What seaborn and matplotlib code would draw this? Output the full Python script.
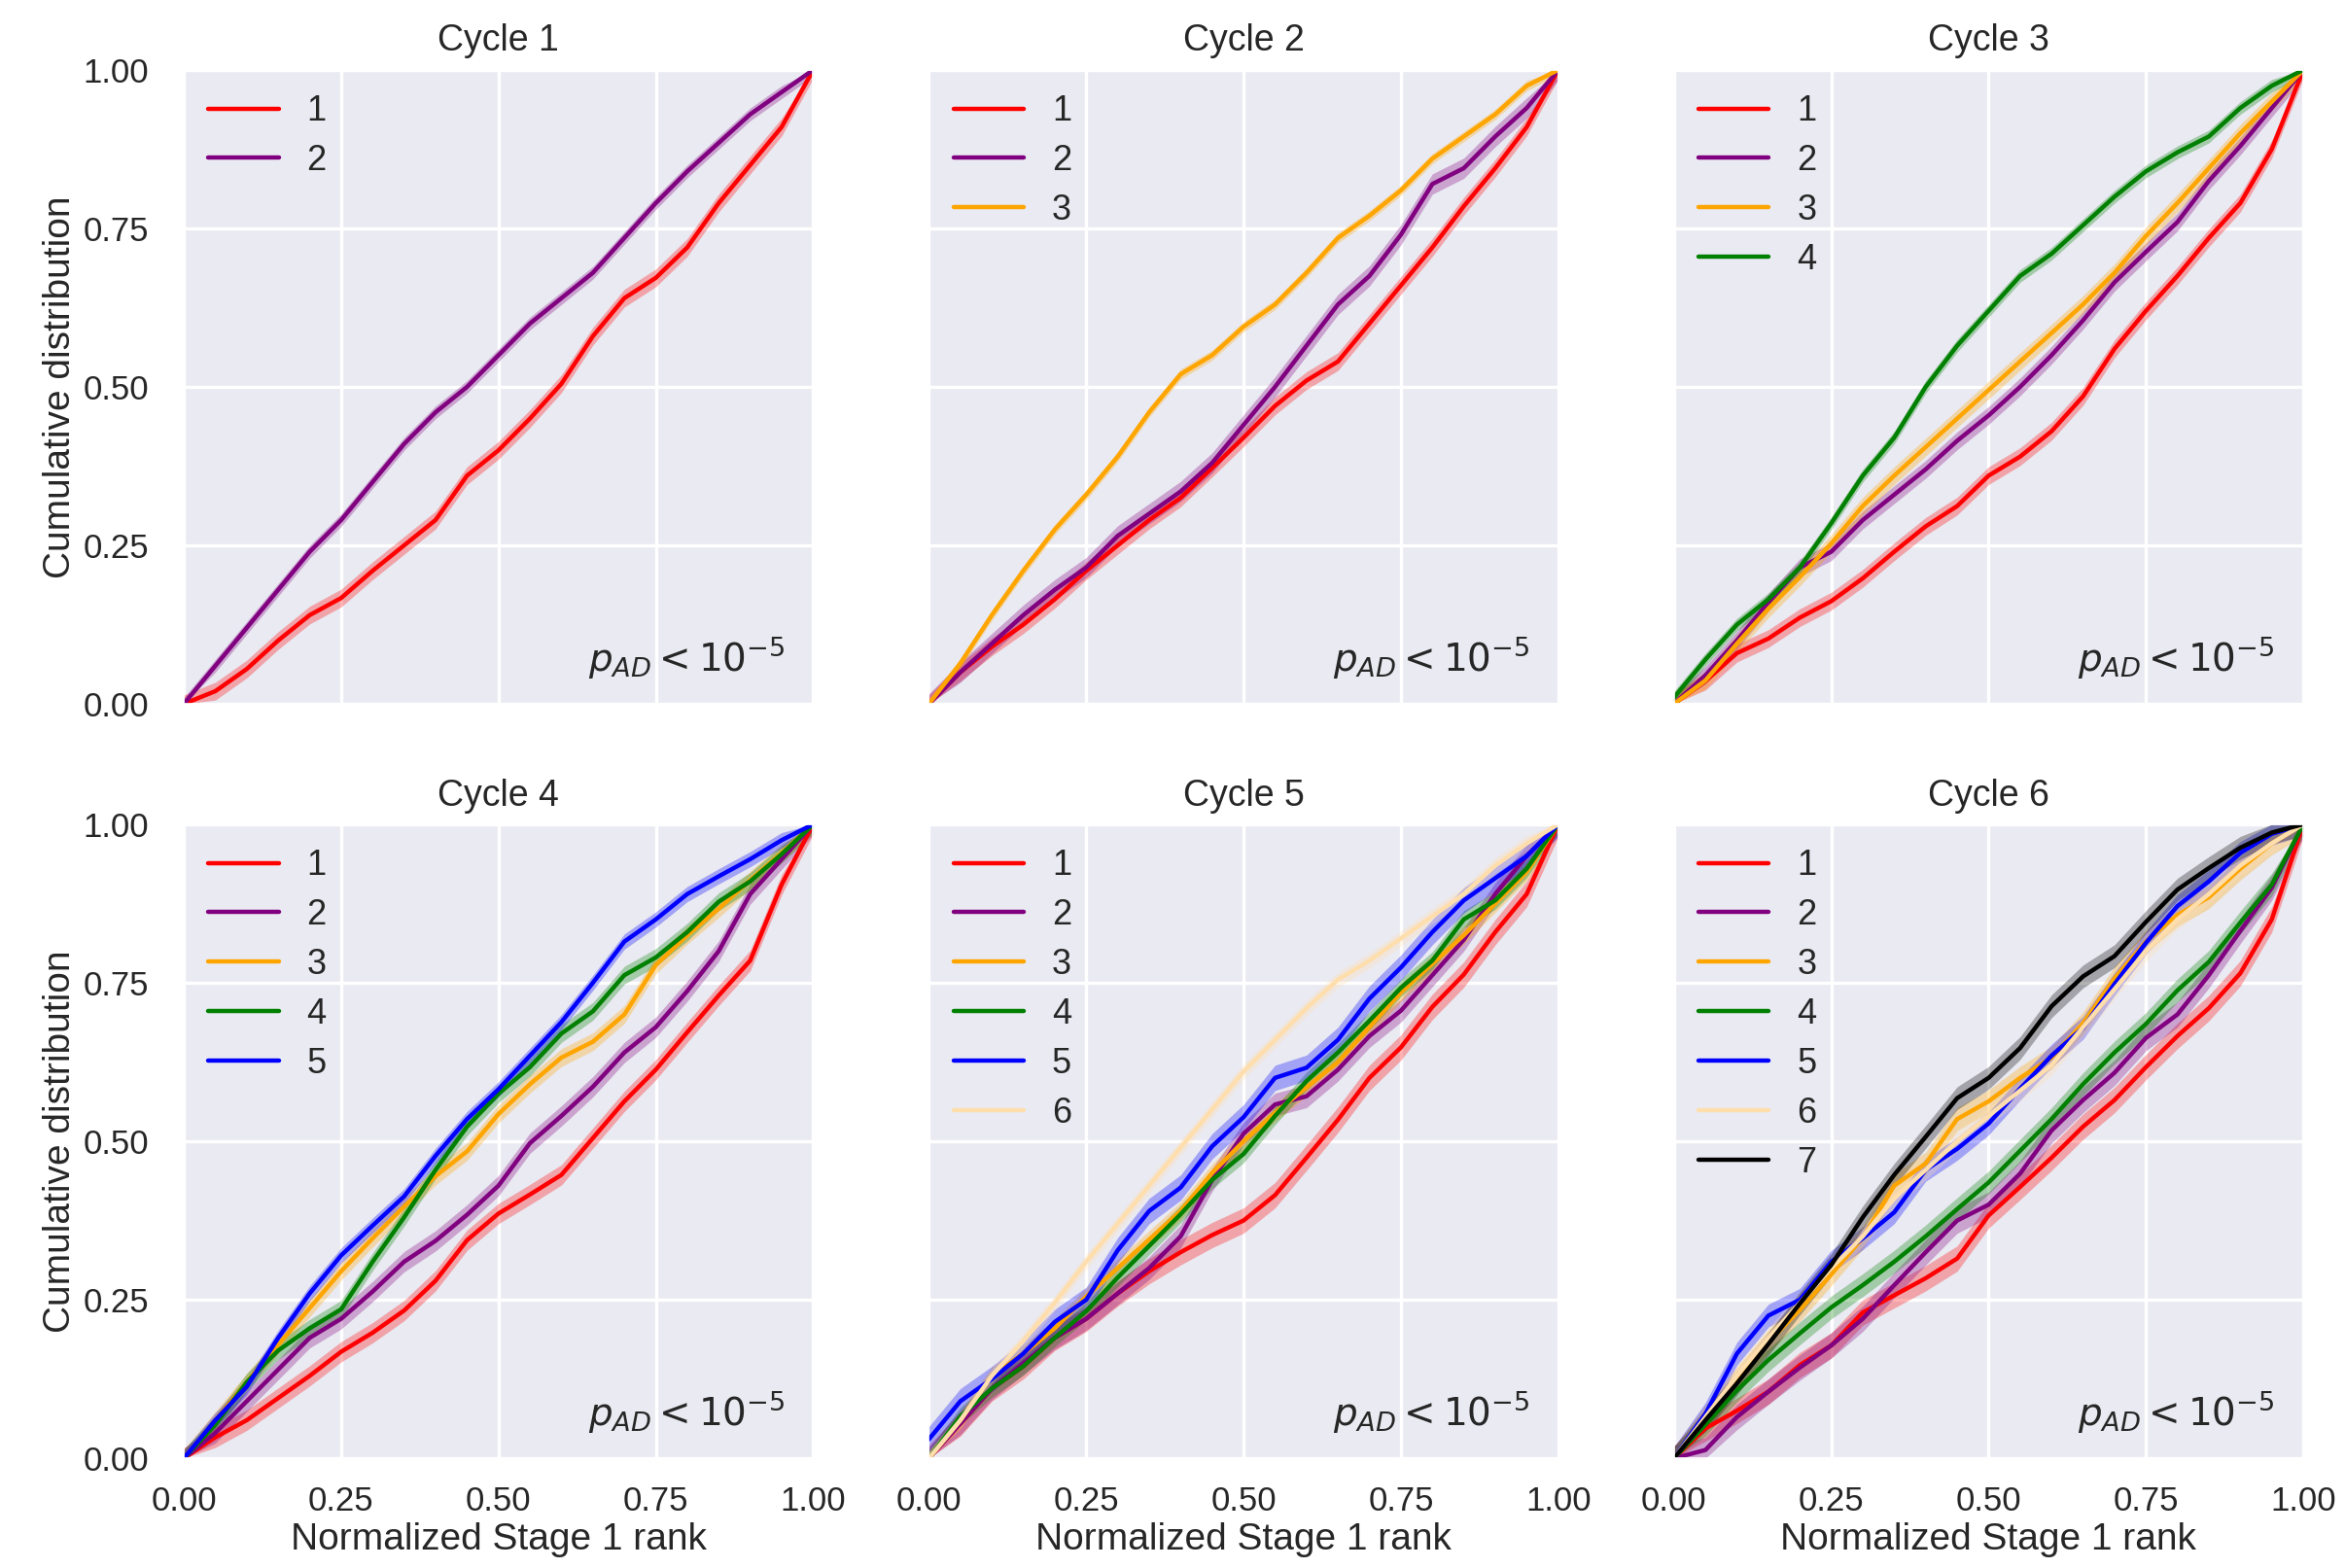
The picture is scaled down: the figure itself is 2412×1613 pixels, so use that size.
import numpy as np
import pandas as pd
import matplotlib
matplotlib.use("Agg")
import matplotlib.pyplot as plt
import seaborn as sns

# ---------------- data ----------------
rank = [0.00, 0.05, 0.10, 0.15, 0.20, 0.25, 0.30, 0.35, 0.40, 0.45, 0.50,
        0.55, 0.60, 0.65, 0.70, 0.75, 0.80, 0.85, 0.90, 0.95, 1.00]

titles = ["Cycle 1", "Cycle 2", "Cycle 3", "Cycle 4", "Cycle 5", "Cycle 6"]
group_labels = ["1", "2", "3", "4", "5", "6", "7"]
group_colors = ["red", "purple", "orange", "green", "blue", "navajowhite", "black"]

# Cycle 1
c1_g1 = [0, 0.02, 0.055, 0.10, 0.14, 0.167, 0.21, 0.25, 0.29, 0.36, 0.40, 0.45, 0.505, 0.58, 0.64, 0.672, 0.72, 0.79, 0.85, 0.91, 1.0]
c1_g2 = [0, 0.06, 0.12, 0.18, 0.24, 0.29, 0.35, 0.41, 0.46, 0.50, 0.55, 0.60, 0.64, 0.68, 0.735, 0.79, 0.84, 0.885, 0.93, 0.965, 1.0]
# Cycle 2
c2_g1 = [0, 0.05, 0.09, 0.125, 0.165, 0.21, 0.25, 0.29, 0.325, 0.372, 0.42, 0.47, 0.51, 0.54, 0.60, 0.66, 0.72, 0.785, 0.845, 0.91, 1.0]
c2_g2 = [0, 0.05, 0.095, 0.14, 0.18, 0.215, 0.265, 0.30, 0.335, 0.38, 0.44, 0.50, 0.565, 0.63, 0.675, 0.74, 0.82, 0.845, 0.895, 0.94, 1.0]
c2_g3 = [0, 0.064, 0.14, 0.21, 0.275, 0.33, 0.39, 0.46, 0.52, 0.55, 0.595, 0.63, 0.68, 0.735, 0.77, 0.81, 0.86, 0.895, 0.93, 0.975, 1.0]
# Cycle 3
c3_g1 = [0, 0.036, 0.08, 0.103, 0.136, 0.162, 0.198, 0.24, 0.28, 0.312, 0.36, 0.39, 0.43, 0.485, 0.56, 0.62, 0.675, 0.735, 0.79, 0.875, 1.0]
c3_g2 = [0, 0.045, 0.10, 0.16, 0.215, 0.24, 0.29, 0.33, 0.37, 0.415, 0.455, 0.50, 0.55, 0.605, 0.665, 0.713, 0.76, 0.825, 0.88, 0.94, 1.0]
c3_g3 = [0, 0.037, 0.095, 0.15, 0.20, 0.253, 0.312, 0.36, 0.405, 0.45, 0.495, 0.54, 0.585, 0.63, 0.68, 0.738, 0.79, 0.845, 0.90, 0.95, 1.0]
c3_g4 = [0.01, 0.07, 0.125, 0.165, 0.215, 0.285, 0.36, 0.42, 0.50, 0.565, 0.62, 0.675, 0.71, 0.755, 0.80, 0.84, 0.87, 0.895, 0.94, 0.975, 1.0]
# Cycle 4
c4_g1 = [0, 0.033, 0.06, 0.095, 0.13, 0.168, 0.198, 0.233, 0.28, 0.344, 0.386, 0.416, 0.447, 0.505, 0.563, 0.613, 0.672, 0.73, 0.785, 0.905, 1.0]
c4_g2 = [0, 0.04, 0.09, 0.14, 0.19, 0.22, 0.263, 0.31, 0.343, 0.384, 0.43, 0.497, 0.54, 0.586, 0.64, 0.68, 0.737, 0.80, 0.89, 0.945, 1.0]
c4_g3 = [0, 0.06, 0.12, 0.179, 0.237, 0.295, 0.347, 0.397, 0.445, 0.484, 0.543, 0.59, 0.632, 0.657, 0.70, 0.778, 0.825, 0.867, 0.912, 0.955, 1.0]
c4_g4 = [0, 0.053, 0.12, 0.17, 0.205, 0.235, 0.31, 0.38, 0.455, 0.523, 0.575, 0.617, 0.67, 0.705, 0.762, 0.79, 0.83, 0.878, 0.91, 0.953, 1.0]
c4_g5 = [0, 0.06, 0.113, 0.19, 0.26, 0.32, 0.367, 0.413, 0.477, 0.535, 0.582, 0.635, 0.688, 0.75, 0.815, 0.85, 0.89, 0.918, 0.945, 0.975, 1.0]
# Cycle 5
c5_g1 = [0, 0.055, 0.11, 0.145, 0.19, 0.22, 0.26, 0.295, 0.325, 0.352, 0.375, 0.415, 0.474, 0.534, 0.60, 0.648, 0.712, 0.763, 0.83, 0.89, 1.0]
c5_g2 = [0, 0.055, 0.11, 0.15, 0.19, 0.22, 0.26, 0.30, 0.35, 0.439, 0.512, 0.558, 0.571, 0.613, 0.666, 0.706, 0.762, 0.818, 0.89, 0.95, 1.0]
c5_g3 = [0, 0.06, 0.13, 0.165, 0.205, 0.255, 0.30, 0.345, 0.39, 0.45, 0.50, 0.545, 0.585, 0.625, 0.68, 0.735, 0.78, 0.825, 0.875, 0.925, 1.0]
c5_g4 = [0, 0.066, 0.11, 0.145, 0.19, 0.232, 0.285, 0.335, 0.385, 0.439, 0.48, 0.54, 0.595, 0.64, 0.69, 0.742, 0.785, 0.85, 0.88, 0.93, 1.0]
c5_g5 = [0.03, 0.09, 0.125, 0.165, 0.215, 0.25, 0.328, 0.39, 0.427, 0.492, 0.538, 0.60, 0.616, 0.66, 0.725, 0.774, 0.83, 0.88, 0.915, 0.95, 1.0]
c5_g6 = [0, 0.06, 0.13, 0.185, 0.245, 0.31, 0.37, 0.43, 0.49, 0.55, 0.61, 0.66, 0.71, 0.755, 0.785, 0.82, 0.855, 0.89, 0.935, 0.97, 1.0]
# Cycle 6
c6_g1 = [0, 0.047, 0.075, 0.105, 0.147, 0.178, 0.23, 0.257, 0.284, 0.315, 0.383, 0.428, 0.474, 0.523, 0.565, 0.617, 0.666, 0.71, 0.765, 0.85, 1.0]
c6_g2 = [0, 0.013, 0.065, 0.105, 0.143, 0.178, 0.22, 0.273, 0.325, 0.375, 0.40, 0.449, 0.517, 0.565, 0.608, 0.663, 0.70, 0.762, 0.832, 0.90, 1.0]
c6_g3 = [0, 0.066, 0.125, 0.184, 0.234, 0.29, 0.348, 0.43, 0.465, 0.535, 0.563, 0.60, 0.632, 0.686, 0.757, 0.815, 0.857, 0.885, 0.93, 0.97, 1.0]
c6_g4 = [0, 0.053, 0.107, 0.155, 0.197, 0.238, 0.273, 0.31, 0.35, 0.393, 0.435, 0.485, 0.535, 0.59, 0.64, 0.685, 0.738, 0.783, 0.845, 0.905, 1.0]
c6_g5 = [0, 0.07, 0.165, 0.225, 0.25, 0.31, 0.347, 0.388, 0.455, 0.488, 0.528, 0.583, 0.635, 0.679, 0.748, 0.813, 0.871, 0.91, 0.955, 0.985, 1.0]
c6_g6 = [0, 0.065, 0.13, 0.19, 0.245, 0.30, 0.35, 0.41, 0.455, 0.50, 0.54, 0.58, 0.62, 0.68, 0.74, 0.80, 0.85, 0.89, 0.935, 0.97, 1.0]
c6_g7 = [0, 0.06, 0.118, 0.18, 0.244, 0.305, 0.38, 0.447, 0.507, 0.568, 0.60, 0.647, 0.713, 0.76, 0.792, 0.846, 0.897, 0.931, 0.963, 0.987, 1.0]

cycles = [
    [c1_g1, c1_g2],
    [c2_g1, c2_g2, c2_g3],
    [c3_g1, c3_g2, c3_g3, c3_g4],
    [c4_g1, c4_g2, c4_g3, c4_g4, c4_g5],
    [c5_g1, c5_g2, c5_g3, c5_g4, c5_g5, c5_g6],
    [c6_g1, c6_g2, c6_g3, c6_g4, c6_g5, c6_g6, c6_g7],
]

# half-width of the confidence band of each group (in cumulative-distribution units)
band_c1 = [0.014, 0.010]
band_c2 = [0.014, 0.016, 0.008]
band_c3 = [0.014, 0.014, 0.014, 0.010]
band_c4 = [0.016, 0.016, 0.014, 0.014, 0.012]
band_c5 = [0.020, 0.018, 0.014, 0.014, 0.020, 0.012]
band_c6 = [0.020, 0.020, 0.018, 0.018, 0.018, 0.016, 0.018]
bands = [band_c1, band_c2, band_c3, band_c4, band_c5, band_c6]

ticks = [0.0, 0.25, 0.5, 0.75, 1.0]
tick_labels = ["0.00", "0.25", "0.50", "0.75", "1.00"]
xlabel = "Normalized Stage 1 rank"
ylabel = "Cumulative distribution"
annotation = r"$p_{AD} < 10^{-5}$"

# ---------------- style ----------------
sns.set_theme(style="darkgrid", rc={"grid.linewidth": 2.4})
plt.rcParams["font.family"] = ["Liberation Sans", "DejaVu Sans"]
plt.rcParams["mathtext.fontset"] = "dejavusans"

fig, axes = plt.subplots(2, 3, figsize=(24.12, 16.13), dpi=100, sharex=True, sharey=True)
fig.subplots_adjust(left=0.0784, right=0.9822, top=0.9554, bottom=0.070,
                    wspace=0.184, hspace=0.19)

for i, ax in enumerate(axes.flat):
    series = cycles[i]
    n = len(series)
    labels = group_labels[:n]
    pal = dict(zip(labels, group_colors[:n]))
    df = pd.DataFrame({
        "rank": np.tile(rank, n),
        "cdf": np.concatenate([np.asarray(s, float) for s in series]),
        "group": np.repeat(labels, len(rank)),
    })
    # confidence bands
    for lab, s, hw in zip(labels, series, bands[i]):
        s = np.asarray(s, float)
        ax.fill_between(rank, np.clip(s - hw, 0, 1), np.clip(s + hw, 0, 1),
                        color=pal[lab], alpha=0.3, lw=0)
    sns.lineplot(data=df, x="rank", y="cdf", hue="group", hue_order=labels,
                 palette=pal, ax=ax, linewidth=3.2, errorbar=None, legend=True)
    ax.set_xlim(0, 1)
    ax.set_ylim(0, 1)
    ax.set_xticks(ticks)
    ax.set_yticks(ticks)
    ax.set_xticklabels(tick_labels)
    ax.set_yticklabels(tick_labels)
    ax.tick_params(axis="both", labelsize=25)
    ax.tick_params(axis="y", pad=20)
    ax.tick_params(axis="x", pad=14)
    ax.set_title(titles[i], fontsize=27, pad=14)
    ax.set_xlabel(xlabel if i >= 3 else "", fontsize=28)
    ax.set_ylabel(ylabel if i % 3 == 0 else "", fontsize=28)
    handles, _ = ax.get_legend_handles_labels()
    leg = ax.legend(handles=handles, labels=labels, loc="upper left", frameon=False,
                    fontsize=26, handlelength=2.0, labelspacing=0.44,
                    handletextpad=0.8, borderaxespad=0.3)
    for h in leg.get_lines():
        h.set_linewidth(3.2)
    ax.text(0.955, 0.052, annotation, transform=ax.transAxes, ha="right",
            va="baseline", fontsize=28, color="#262626")

fig.savefig("out.png", dpi=100)
